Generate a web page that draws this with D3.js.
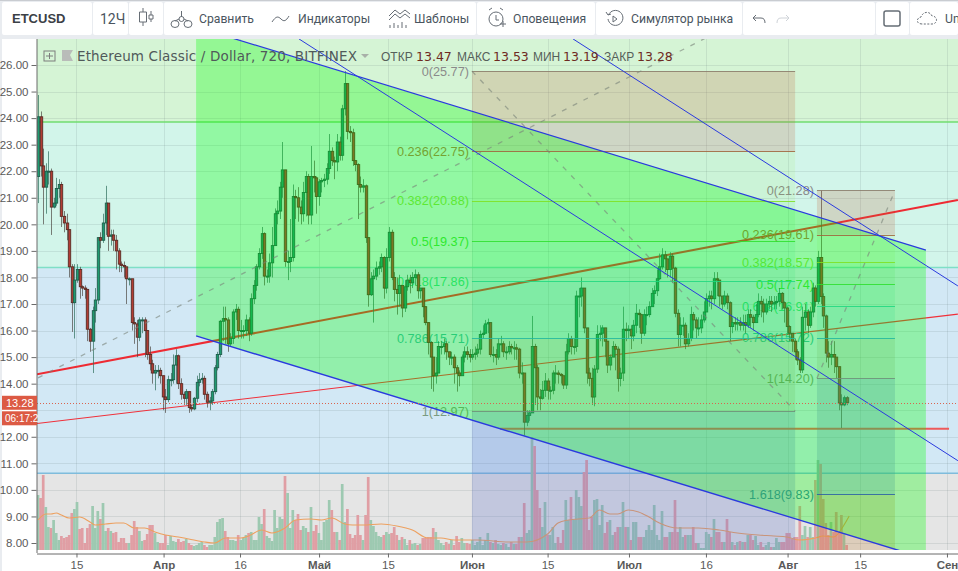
<!DOCTYPE html>
<html>
<head>
<meta charset="utf-8">
<script src="https://cdn.jsdelivr.net/npm/d3@7"></script>
<style>
  html, body { margin: 0; padding: 0; background: #e9ecf0; overflow: hidden; }
  svg { display: block; }
  text { font-family: "Liberation Sans", sans-serif; }
</style>
</head>
<body>
<svg id="chart" width="958" height="571"></svg>
<script>
// 12h candles, one value per bar (10 bars a row)
const firstOpen = 21.8;
const closes = [
  24.05,22.2,21.4,22.0,22.0,20.65,20.8,21.35,21.5,20.3,
  20.05,19.8,18.4,17.05,17.9,18.3,17.65,17.6,17.55,16.05,
  15.6,16.75,17.15,19.5,19.4,20.05,20.8,19.55,19.6,19.4,
  19.0,18.5,18.45,18.4,17.95,17.95,16.3,16.25,15.75,16.4,
  16.4,16.0,15.1,14.75,14.4,14.5,14.5,14.3,13.5,13.4,
  14.15,14.15,14.7,15.05,14.0,13.6,13.45,13.7,13.1,13.05,
  13.45,14.05,14.15,14.2,13.6,13.3,13.35,13.7,14.6,15.1,
  16.35,16.45,16.4,15.5,15.7,16.7,16.8,16.0,16.0,16.0,
  16.4,15.9,17.2,17.7,18.4,18.9,19.65,18.05,18.05,18.55,
  19.2,20.4,20.5,21.4,22.05,18.6,18.6,18.75,21.05,21.0,
  20.65,20.4,21.2,21.8,20.35,21.8,21.75,21.05,21.6,21.65,
  21.7,22.1,22.75,22.4,22.35,23.1,22.6,24.35,25.3,23.5,
  23.45,22.4,22.25,21.5,21.4,21.45,19.5,17.35,17.95,18.05,
  18.35,18.4,18.75,17.6,18.75,19.7,18.0,17.55,17.4,17.7,
  16.85,17.65,17.9,17.8,18.0,18.1,17.5,17.6,16.9,16.3,
  15.55,15.0,14.3,14.4,15.4,15.4,15.5,15.2,15.0,15.0,
  14.6,14.4,14.3,15.0,15.2,15.1,15.0,15.1,15.15,15.3,
  15.85,15.9,16.25,16.3,15.1,15.1,15.0,15.5,15.5,15.2,
  15.2,15.4,15.35,15.35,15.3,14.4,14.4,12.55,12.8,12.9,
  15.4,14.6,13.5,13.45,13.75,14.1,13.75,13.75,14.4,14.4,
  14.35,14.3,13.95,15.2,15.7,15.4,15.4,17.3,17.3,17.6,
  16.1,14.4,14.2,13.5,14.55,15.85,15.9,16.1,15.6,14.7,
  15.0,15.4,15.3,14.2,14.4,16.05,16.0,16.05,15.8,16.2,
  16.65,16.6,15.9,16.6,16.6,16.9,17.4,17.5,17.95,18.4,
  18.85,18.7,18.3,18.8,18.35,16.65,15.85,16.2,16.2,15.5,
  15.7,16.6,16.4,16.1,16.1,16.4,16.7,17.2,17.3,17.2,
  17.95,17.9,17.3,17.0,17.3,17.05,16.15,16.3,16.25,16.3,
  16.2,16.3,16.2,16.6,16.5,16.3,16.6,17.1,17.0,16.7,
  17.0,17.1,17.0,17.05,17.1,17.4,17.05,16.85,16.15,15.9,
  15.6,15.2,14.89,14.52,16.5,16.7,16.2,16.7,17.6,17.1,
  18.75,17.28,16.55,15.15,15.0,15.1,15.0,14.64,13.27,13.2,
  13.47,13.28
];
const highs = [
  24.87,24.25,22.85,22.3,22.75,22.1,21.0,21.75,21.7,21.6,
  20.5,20.4,19.8,18.5,18.5,18.5,18.4,17.7,17.7,17.55,
  16.1,16.9,17.6,19.5,19.7,20.4,21.45,20.8,19.8,19.8,
  19.6,19.1,18.6,18.6,18.3,18.0,17.2,16.5,16.4,16.5,
  16.5,16.5,16.0,15.4,14.9,14.7,14.7,14.6,14.3,13.8,
  14.3,14.4,15.1,15.3,15.1,14.2,13.7,13.8,13.7,13.2,
  13.5,14.3,14.4,14.4,14.3,13.7,13.5,13.8,14.7,15.2,
  16.4,16.9,16.9,16.5,15.9,16.8,17.0,16.9,16.4,16.2,
  16.6,16.5,17.4,17.9,18.5,19.1,19.9,19.7,18.3,18.9,
  19.9,20.6,20.9,21.6,23.1,22.05,19.0,20.2,21.5,21.3,
  21.4,20.9,21.6,22.0,21.9,22.95,22.4,21.8,21.7,21.75,
  21.9,22.3,23.4,22.9,22.55,23.4,23.3,24.5,25.77,25.2,
  23.7,23.6,22.4,22.3,21.8,21.7,21.5,19.5,18.2,18.3,
  18.6,18.6,18.9,18.8,19.1,19.9,19.8,18.2,18.0,18.1,
  17.6,17.9,18.1,18.1,18.2,18.3,18.2,17.6,17.6,16.9,
  16.3,15.6,14.6,15.0,15.6,15.6,15.7,15.6,15.2,15.2,
  15.1,14.7,14.5,15.1,15.4,15.4,15.3,15.3,15.4,15.5,
  16.0,16.2,16.4,16.45,16.3,15.4,15.3,15.7,15.8,15.6,
  15.4,15.6,15.5,15.6,15.5,15.35,14.8,14.4,13.0,13.0,
  16.55,15.5,14.7,13.8,14.1,14.4,14.2,13.9,14.5,14.7,
  14.5,14.4,14.2,15.5,15.9,15.8,15.7,17.5,17.6,18.0,
  17.6,16.1,14.6,14.6,14.7,16.2,16.2,16.2,16.1,15.6,
  15.1,15.6,15.5,15.4,14.6,16.9,16.3,16.2,16.2,16.4,
  17.0,16.8,16.6,16.8,16.9,17.1,17.6,17.7,18.3,18.9,
  19.1,19.0,18.7,18.95,18.9,18.4,16.8,16.5,16.5,16.3,
  15.9,16.9,16.7,16.5,16.5,16.6,17.1,17.4,17.5,17.5,
  18.2,18.2,17.9,17.3,17.5,17.4,17.1,16.5,16.5,16.5,
  16.5,16.6,16.6,16.8,16.8,16.6,17.0,17.4,17.3,17.2,
  17.2,17.3,17.3,17.3,17.3,17.6,17.45,17.1,16.9,16.2,
  15.9,15.7,15.3,15.0,16.9,17.0,16.8,16.9,17.8,17.7,
  19.0,21.28,17.4,16.6,15.6,15.6,15.6,15.0,14.64,13.6,
  13.55,13.53
];
const lows = [
  20.8,21.8,20.0,20.4,21.5,19.6,20.6,20.7,21.0,19.9,
  19.7,19.4,18.0,15.95,15.7,17.8,17.2,17.3,17.2,15.6,
  15.2,14.4,16.3,17.0,19.1,19.3,19.6,19.0,19.2,19.0,
  18.3,18.2,18.2,18.0,17.0,17.7,16.0,15.5,15.0,15.6,
  15.9,15.0,14.9,14.5,14.0,13.75,14.2,14.0,13.0,12.9,
  13.3,13.9,14.0,14.0,13.8,13.4,13.2,13.2,12.9,12.95,
  13.0,13.3,13.9,14.0,13.4,13.1,13.0,13.2,13.6,14.5,
  15.0,15.6,15.5,15.2,15.4,15.5,16.4,15.7,15.7,15.7,
  15.8,15.6,15.8,17.0,17.5,18.3,18.7,17.7,17.8,17.8,
  18.0,19.2,20.0,20.2,21.0,18.4,17.9,18.2,18.6,20.2,
  20.1,20.0,20.1,20.3,20.0,20.0,21.2,20.4,20.7,21.2,
  21.4,21.5,21.9,22.2,21.7,22.0,22.4,22.4,24.1,23.2,
  23.1,22.2,22.0,20.2,21.2,21.2,19.3,16.9,17.3,16.3,
  17.9,18.1,18.2,17.2,17.4,18.6,17.9,17.1,16.6,16.9,
  16.5,16.7,17.5,17.4,17.6,17.7,17.2,17.2,16.5,16.2,
  15.1,13.8,13.7,14.0,15.1,15.1,15.1,14.9,14.7,14.7,
  14.0,13.7,13.9,14.3,14.8,14.9,14.8,14.9,14.9,15.0,
  15.1,15.7,15.9,15.9,15.0,14.8,14.7,14.9,15.2,15.0,
  14.9,15.1,15.1,14.9,14.9,14.2,14.0,12.05,12.4,12.6,
  12.9,13.2,13.0,13.0,13.4,13.5,13.4,13.4,13.6,14.0,
  14.0,14.0,13.8,13.8,15.1,15.1,15.1,15.2,16.5,16.9,
  15.9,14.0,13.9,13.2,13.15,14.4,15.6,15.4,15.0,14.4,
  14.5,15.0,14.5,13.7,13.9,14.1,15.6,15.7,15.3,15.6,
  15.9,16.1,15.5,15.8,16.2,16.5,16.9,17.0,17.3,17.9,
  18.3,18.2,18.0,18.0,17.8,16.5,15.4,15.4,15.8,15.3,
  15.4,15.6,16.0,15.7,15.8,15.9,16.3,16.7,16.9,16.8,
  17.0,17.3,16.9,16.8,16.9,16.8,15.6,15.9,16.0,16.0,
  16.0,16.0,15.9,16.1,16.1,16.0,16.3,16.5,16.5,16.3,
  16.6,16.8,16.7,16.8,16.8,16.9,16.8,16.3,15.9,15.6,
  15.2,14.9,14.7,14.4,14.4,16.0,15.9,16.1,16.5,16.9,
  17.0,17.0,16.1,14.8,14.6,14.7,14.4,14.2,13.0,12.33,
  13.15,13.19
];
const volumes = [
  55,52,75,43,23,22,30,17,10,14,
  12,13,15,37,41,48,21,22,7,22,
  26,44,22,39,31,47,19,22,19,17,
  18,8,12,12,7,7,15,29,23,19,
  9,10,16,25,25,17,8,7,7,15,
  5,14,9,8,11,8,9,11,7,5,
  4,5,7,8,5,3,5,5,13,28,
  31,32,19,13,10,10,9,15,10,12,
  15,17,18,10,10,33,26,41,14,12,
  9,40,22,33,31,74,57,22,40,30,
  36,20,24,22,18,43,19,25,17,10,
  28,30,50,40,18,18,10,66,28,41,
  16,12,15,35,15,10,35,73,30,24,
  18,14,13,15,18,16,17,23,15,10,
  13,11,5,10,6,7,5,6,12,12,
  13,13,22,18,10,7,5,8,6,10,
  5,14,8,12,7,7,6,10,5,8,
  13,5,10,17,8,7,10,6,5,7,
  6,3,8,6,6,13,13,47,17,20,
  113,104,60,42,23,48,15,15,23,7,
  13,7,20,50,30,53,30,60,53,44,
  78,90,20,33,50,51,25,45,17,28,
  30,15,18,23,23,48,23,23,10,28,
  28,13,13,13,20,25,20,45,15,10,
  39,13,13,18,18,50,18,23,13,15,
  15,15,23,7,7,2,2,18,16,13,
  31,18,18,8,8,31,18,8,5,8,
  9,8,8,15,15,10,14,5,8,3,
  5,8,3,3,12,8,8,8,17,17,
  11,13,13,44,15,24,13,23,13,70,
  90,86,51,27,15,28,18,38,17,35,
  17,5
];
// volume moving average, sparse readings
const volMaBars = [0,3,5,7,9,12,16,20,22,26,30,33,37,41,45,49,54,58,64,68,72,78,81,86,90,95,99,105,109,113,118,121,125,132,138,144,150,155,160,169,181,188,196,200,204,212,216,220,223,227,231,235,239,246,254,262,269,277,283,288,293,299,302,306,310,312];
const volMaValues = [30,36,36,37,35,32,33,28,25,26,27,27,22,22,18,15,13,11,8,7,12,12,14,20,17,22,30,31,30,32,26,25,25,26,24,20,12,12,10,10,8,8,16,27,30,32,40,36,36,40,38,33,27,22,22,20,17,15,14,13,10,12,14,13,25,34];

// axis ticks, 13.00 sits behind the last price tag in the reference
const priceTicks = d3.range(8, 27);
const priceAxisTicks = priceTicks.filter(d => d !== 13);
const timeTickBars = [14.8,48.3,77.7,108.1,134.6,166.9,196,227.3,256.9,288.3,316.2,349.6];
const timeTickLabels = ["15","Апр","16","Май","15","Июн","15","Июл","16","Авг","15","Сен"];
const monthLabels = ["Апр","Май","Июн","Июл","Авг","Сен"];

// horizontal zones of the price pane
const zonePrices = [40, 23.85, 18.37, 10.63, 0];
const zoneColors = ["#d5f4d5", "#d2f5ea", "#d2e8f5", "#e5e5e5"];
const zoneLineColors = ["#6fdc6f", "#7fdfc6", "#7fbcdc"];

// drawings, [bar, price]
const channelArea = [[60.8,27.43],[341.5,19.03],[341.5,7.41],[60.8,15.80]];
const channelTop = [[60.8,27.43],[341.5,19.03]];
const channelBottom = [[60.8,15.80],[341.5,7.41]];
const blueLineA = [[100.4,26.98],[353.8,11.1]];
const blueLineB = [[205.8,26.98],[353.8,17.68]];
const redThick = [[-0.4,14.35],[353.8,20.92]];
const redThin = [[-0.4,12.50],[353.8,16.62]];
const redFlat = [[177.7,12.3],[350.4,12.3]];
const dashTrend = [[0,14.22],[256.5,27.0]];
const dashFibA = [[166.9,25.77],[291.2,12.97]];
const dashFibB = [[299.6,14.2],[329.6,21.28]];

// fib retracements
const fibLevels = ["0","0.236","0.382","0.5","0.618","0.786","1","1.618"];
const fibLineColors = ["#8a7a6a","#a0623a","#7fe020","#2ddf2d","#20d880","#20b8a0","#6f8f78","#2a5fa5"];
const fibTextColors = ["#8a8a8a","#a87a48","#86e04a","#44e044","#3cd88e","#3cb8ac","#7a9a80","#3c7ea4"];
const fibFills = ["rgba(190,90,50,0.2)","rgba(127,224,0,0.08)","rgba(0,220,0,0.08)","rgba(0,220,130,0.1)","rgba(0,190,170,0.12)","rgba(130,130,90,0.15)","rgba(90,110,205,0.25)"];
const fibAPrices = [25.77,22.75,20.88,19.37,17.86,15.71,12.97,5.06];
const fibBPrices = [21.28,19.61,18.57,17.74,16.91,15.72,14.20,9.83];
const fibABars = [166.9,291.2];
const fibBBars = [299.6,329.6];

const lastPrice = 13.28;
const legendPairs = [["ОТКР","13.47",381,416],["МАКС","13.53",457,493],["МИН","13.19",533,563],["ЗАКР","13.28",604,637]];
const toolLabels = [["Сравнить",199],["Индикаторы",298],["Шаблоны",414],["Оповещения",513],["Симулятор рынка",631]];
const toolSections = [[2,92],[93,128],[129,163],[164,476],[477,595],[596,742],[743,875],[876,909],[910,958]];

const svg = d3.select("#chart");
const plot = { left: 37, right: 958, top: 39, bottom: 550 };

const x = d3.scaleLinear().domain([0, 311]).range([38, 846.6]);
const y = d3.scaleLinear().domain([8, 26]).range([543, 65]);
const yVol = d3.scaleLinear().domain([0, 115]).range([550, 435]);
const linePath = d3.line().x(d => x(d[0])).y(d => y(d[1]));

svg.append("defs").append("clipPath").attr("id", "plotClip")
  .append("rect")
  .attr("x", plot.left).attr("y", plot.top)
  .attr("width", plot.right - plot.left).attr("height", plot.bottom - plot.top);

// toolbar
const bar = svg.append("g");
bar.append("rect").attr("width", 958).attr("height", 1).attr("fill", "#c9ccd1");
bar.selectAll("rect.sec").data(toolSections).join("rect")
  .attr("class", "sec")
  .attr("x", d => d[0]).attr("y", 2)
  .attr("width", d => d[1] - d[0]).attr("height", 33)
  .attr("rx", 2).attr("fill", "#fff");
bar.append("text").attr("x", 12).attr("y", 23)
  .attr("font-size", 13).attr("font-weight", "bold").attr("fill", "#3b4046").text("ETCUSD");
bar.append("text").attr("x", 100).attr("y", 24)
  .attr("style", "font-family:Roboto").attr("font-size", 14).attr("fill", "#4a5560").text("12Ч");
bar.selectAll("text.tool").data(toolLabels).join("text")
  .attr("class", "tool")
  .attr("x", d => d[1]).attr("y", 23)
  .attr("style", "font-family:Roboto").attr("font-size", 12.2).attr("fill", "#4a5560")
  .text(d => d[0]);
bar.append("text").attr("x", 945).attr("y", 23)
  .attr("style", "font-family:Roboto").attr("font-size", 12.2).attr("fill", "#4a5560").text("Un");

// toolbar icons
const iconStroke = "#666d75";
const icons = bar.append("g").attr("fill", "none").attr("stroke", iconStroke);
icons.append("path").attr("d", "M143 8v4M143 22v4M143 12h-3.5v10h7v-10zM151 11v4M151 19v3M149 15h4v4h-4z");
icons.append("path").attr("d", "M171 24a4 3.5 0 1 0 8 0a4 3.5 0 1 0-8 0zM184 24a4 3.5 0 1 0 8 0a4 3.5 0 1 0-8 0zM179 19a2.5 2.5 0 1 0 5 0a2.5 2.5 0 1 0-5 0zM181.5 17v-6M175 21l4-2M184 19l4 2");
icons.append("path").attr("d", "M272 22c4-6 6-6 9-3s5 2 8-3");
icons.append("path").attr("d", "M389 16l6-6 5 4 5-4 5 4M389 20l6-6 5 4 5-4 5 4M390 28v-3M394 28v-5M398 28v-3M402 28v-6M406 28v-3");
icons.append("path").attr("d", "M489 19a7 7 0 1 0 14 0a7 7 0 1 0-14 0zM496 15v5h3M489 10l3-2M503 10l-3-2M500 24h6M503 21v6");
icons.append("path").attr("d", "M608 19a7.5 7.5 0 1 0 0.5-4M606 12l2 3 3-1M613 16v6l4-3z");
icons.append("path").attr("d", "M753 18l3-3M753 18l3 3M753 18h8c3 0 4 2 4 5");
icons.append("path").attr("stroke", "#cfd3d8").attr("d", "M789 18l-3-3M789 18l-3 3M789 18h-8c-3 0-4 2-4 5");
icons.append("rect").attr("x", 884).attr("y", 11).attr("width", 16).attr("height", 15).attr("rx", 2).attr("stroke-width", 1.5);
icons.append("path").attr("stroke-dasharray", "2 1.5").attr("d", "M922 24c-6 0-6-6-1-7c2-6 9-6 11-1c6 0 6 8 0 8z");

// white price and time axis area
svg.append("rect").attr("x", 2).attr("y", plot.top).attr("width", 956).attr("height", 532).attr("fill", "#fff");

const pane = svg.append("g").attr("clip-path", "url(#plotClip)");

// zones
pane.selectAll("rect.zone").data(zoneColors).join("rect")
  .attr("class", "zone")
  .attr("x", plot.left).attr("width", plot.right - plot.left)
  .attr("y", (d, i) => y(zonePrices[i]))
  .attr("height", (d, i) => y(zonePrices[i + 1]) - y(zonePrices[i]))
  .attr("fill", d => d);

// grid
pane.selectAll("line.gy").data(priceTicks).join("line")
  .attr("class", "gy")
  .attr("x1", plot.left).attr("x2", plot.right)
  .attr("y1", d => Math.round(y(d)) + 0.5).attr("y2", d => Math.round(y(d)) + 0.5)
  .attr("stroke", "rgba(90,110,110,0.14)");
pane.selectAll("line.gx").data(timeTickBars).join("line")
  .attr("class", "gx")
  .attr("x1", d => Math.round(x(d)) + 0.5).attr("x2", d => Math.round(x(d)) + 0.5)
  .attr("y1", plot.top).attr("y2", plot.bottom)
  .attr("stroke", "rgba(90,110,110,0.14)");

// zone borders
pane.selectAll("line.zl").data(zoneLineColors).join("line")
  .attr("class", "zl")
  .attr("x1", plot.left).attr("x2", plot.right)
  .attr("y1", (d, i) => y(zonePrices[i + 1])).attr("y2", (d, i) => y(zonePrices[i + 1]))
  .attr("stroke", d => d).attr("stroke-width", 1.5);

// volume
const isUp = i => closes[i] >= (i === 0 ? firstOpen : closes[i - 1]);
pane.selectAll("rect.vol").data(volumes).join("rect")
  .attr("class", "vol")
  .attr("x", (d, i) => x(i) - 1.35).attr("width", 2.7)
  .attr("y", d => yVol(d)).attr("height", d => yVol(0) - yVol(d))
  .attr("fill", (d, i) => isUp(i) ? "#9dc9b1" : "#e09ea4");
pane.append("path").datum(d3.zip(volMaBars, volMaValues))
  .attr("fill", "none").attr("stroke", "#eda05f").attr("stroke-width", 1.1)
  .attr("d", d3.line().x(d => x(d[0])).y(d => yVol(d[1])).curve(d3.curveMonotoneX));

// trend lines that sit under the channel fill
pane.append("path").datum(redThick).attr("d", linePath).attr("stroke", "#ee2b33").attr("stroke-width", 2).attr("fill", "none");
pane.append("path").datum(redThin).attr("d", linePath).attr("stroke", "#f0303a").attr("stroke-width", 1.1).attr("fill", "none");
pane.append("path").datum(redFlat).attr("d", linePath).attr("stroke", "#ee5a5a").attr("stroke-width", 2).attr("fill", "none");

// fib labels under the candles
function fibLabels(prices, bars) {
  pane.selectAll(null).data(prices).join("text")
    .attr("x", x(bars[0]) - 3)
    .attr("y", d => y(d) + 4.5)
    .attr("text-anchor", "end")
    .attr("font-size", 12.7)
    .attr("fill", (d, i) => fibTextColors[i])
    .text((d, i) => `${fibLevels[i]}(${d.toFixed(2)})`);
}
fibLabels(fibAPrices.slice(0, 7), fibABars);
fibLabels(fibBPrices, fibBBars);

// candles
const candles = pane.append("g");
candles.selectAll("line").data(closes).join("line")
  .attr("x1", (d, i) => Math.round(x(i)) + 0.5).attr("x2", (d, i) => Math.round(x(i)) + 0.5)
  .attr("y1", (d, i) => y(Math.max(highs[i], d)))
  .attr("y2", (d, i) => y(Math.min(lows[i], d)))
  .attr("stroke", (d, i) => isUp(i) ? "#2f6f5c" : "#4f4a44")
  .attr("stroke-width", 1).attr("opacity", 0.7);
candles.selectAll("rect").data(closes).join("rect")
  .attr("x", (d, i) => Math.round(x(i)) - 0.7).attr("width", 2.4)
  .attr("y", (d, i) => y(Math.max(d, i === 0 ? firstOpen : closes[i - 1])))
  .attr("height", (d, i) => Math.max(1, Math.abs(y(d) - y(i === 0 ? firstOpen : closes[i - 1]))))
  .attr("fill", (d, i) => isUp(i) ? "#1f9a70" : "#b23c34")
  .attr("stroke", (d, i) => isUp(i) ? "#1f5f4c" : "#5a2c24")
  .attr("stroke-width", 0.9);

// fib bands sit under the channel so the green washes over them
function fibBands(prices, bars, bandCount) {
  pane.selectAll(null).data(d3.range(bandCount)).join("rect")
    .attr("x", x(bars[0])).attr("width", x(bars[1]) - x(bars[0]))
    .attr("y", i => y(prices[i])).attr("height", i => y(prices[i + 1]) - y(prices[i]))
    .attr("fill", i => fibFills[i]);
}
fibBands(fibAPrices, fibABars, 7);
fibBands(fibBPrices, fibBBars, 7);
// the second fib keeps going below 1.618 in a tan tint
pane.append("rect")
  .attr("x", x(fibBBars[0])).attr("width", x(fibBBars[1]) - x(fibBBars[0]))
  .attr("y", y(fibBPrices[7])).attr("height", y(4) - y(fibBPrices[7]))
  .attr("fill", "rgba(190,110,20,0.2)");

// channel fill
pane.append("path").datum(channelArea)
  .attr("d", d => linePath(d) + "Z")
  .attr("fill", "rgba(0,255,0,0.3)");

// fib level lines
function fibLines(prices, bars) {
  pane.selectAll(null).data(prices).join("line")
    .attr("x1", x(bars[0])).attr("x2", x(bars[1]))
    .attr("y1", d => Math.round(y(d)) + 0.5).attr("y2", d => Math.round(y(d)) + 0.5)
    .attr("stroke", (d, i) => fibLineColors[i]).attr("stroke-opacity", 0.85);
}
fibLines(fibAPrices, fibABars);
fibLines(fibBPrices, fibBBars);

// dashed trend lines
[dashTrend, dashFibA, dashFibB].forEach(d => {
  pane.append("path").datum(d).attr("d", linePath)
    .attr("fill", "none").attr("stroke", "rgba(120,130,120,0.6)")
    .attr("stroke-width", 1.3).attr("stroke-dasharray", "5 7");
});

// blue lines
[[channelTop, 1.2], [channelBottom, 1.4], [blueLineA, 1], [blueLineB, 1]].forEach(d => {
  pane.append("path").datum(d[0]).attr("d", linePath)
    .attr("fill", "none").attr("stroke", "#2a3ade").attr("stroke-width", d[1]);
});

// last price line
pane.append("line")
  .attr("x1", plot.left).attr("x2", plot.right)
  .attr("y1", Math.round(y(lastPrice)) + 0.5).attr("y2", Math.round(y(lastPrice)) + 0.5)
  .attr("stroke", "#d9644f").attr("stroke-dasharray", "1 2");

// legend
const legend = svg.append("g");
legend.append("rect").attr("x", 44).attr("y", 51).attr("width", 11).attr("height", 10)
  .attr("fill", "none").attr("stroke", "#7d7d7d");
legend.append("path").attr("d", "M46 56h7M49.5 53v6").attr("stroke", "#7d7d7d");
legend.append("path").attr("d", "M62 50h11l-3 5 3 6h-11z").attr("fill", "#b9bcb9");
legend.append("text").attr("x", 77).attr("y", 60.5)
  .attr("style", "font-family:'DejaVu Sans'").attr("font-size", 13.5)
  .attr("textLength", 280).attr("fill", "#50595a")
  .text("Ethereum Classic / Dollar, 720, BITFINEX");
legend.append("path").attr("d", "M361 54h8l-4 4z").attr("fill", "#a8b0a8");
legendPairs.forEach(d => {
  legend.append("text").attr("x", d[2]).attr("y", 60.5).attr("font-size", 12).attr("fill", "#55605a").text(d[0]);
  legend.append("text").attr("x", d[3]).attr("y", 60.5)
    .attr("style", "font-family:'DejaVu Sans'").attr("font-size", 12.5).attr("fill", "#6e2a22").text(d[1]);
});

// axes
const axisLeft = svg.append("g")
  .attr("transform", `translate(${plot.left - 0.5},0)`)
  .call(d3.axisLeft(y).tickValues(priceAxisTicks).tickFormat(d3.format(".2f")).tickSize(5));
axisLeft.select(".domain").attr("d", `M0.5 ${plot.top}V553`);
const axisBottom = svg.append("g")
  .attr("transform", "translate(0,553.5)")
  .call(d3.axisBottom(x).tickValues(timeTickBars).tickFormat((d, i) => timeTickLabels[i]).tickSize(4));
axisBottom.select(".domain").attr("d", `M${plot.left} 0.5H958`);
[axisLeft, axisBottom].forEach(a => {
  a.selectAll("path,line").attr("stroke", "#6a6a6a");
  a.selectAll("text").attr("fill", "#5a5a5a").attr("font-size", 11.5)
    .attr("style", "font-family:'Liberation Sans'");
});
axisBottom.selectAll("text")
  .attr("font-weight", d => monthLabels.includes(timeTickLabels[timeTickBars.indexOf(d)]) ? "bold" : "normal")
  .attr("y", 7);

// last price tag
svg.append("rect").attr("x", 2).attr("y", y(lastPrice) - 7).attr("width", 35).attr("height", 14).attr("fill", "#dc5a44");
svg.append("rect").attr("x", 2).attr("y", y(lastPrice) + 8.5).attr("width", 35).attr("height", 14).attr("fill", "#dc5a44");
svg.append("text").attr("x", 6).attr("y", y(lastPrice) + 3.8).attr("font-size", 11).attr("fill", "#fff").text("13.28");
svg.append("text").attr("x", 5).attr("y", y(lastPrice) + 19).attr("font-size", 10).attr("fill", "#fff").text("06:17:2");
</script>
</body>
</html>
